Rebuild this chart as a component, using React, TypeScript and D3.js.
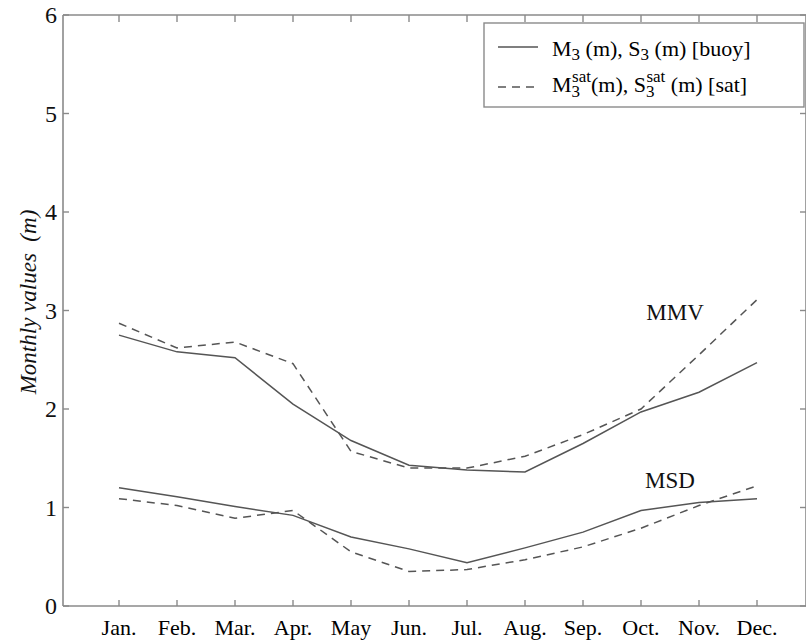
import React from "react";
import * as d3 from "d3";

const months = ["Jan.", "Feb.", "Mar.", "Apr.", "May", "Jun.", "Jul.", "Aug.", "Sep.", "Oct.", "Nov.", "Dec."];
const mmvBuoy = [2.75, 2.58, 2.52, 2.05, 1.68, 1.43, 1.38, 1.36, 1.65, 1.97, 2.17, 2.47];
const mmvSat = [2.87, 2.62, 2.68, 2.46, 1.57, 1.4, 1.4, 1.52, 1.74, 2.0, 2.55, 3.11];
const msdBuoy = [1.2, 1.11, 1.01, 0.92, 0.7, 0.58, 0.44, 0.59, 0.75, 0.97, 1.05, 1.09];
const msdSat = [1.09, 1.02, 0.89, 0.97, 0.55, 0.35, 0.37, 0.47, 0.6, 0.79, 1.02, 1.22];
const yTicks = [0, 1, 2, 3, 4, 5, 6];

const W = 806, H = 644;
const left = 63, right = 812, top = 15, bottom = 606;
const axisColor = "#8a8a8a";
const lineColor = "#555";
const font = "Liberation Serif, Times New Roman, Times, serif";

export default function App() {
  const x = d3.scaleLinear().domain([1, 12]).range([119, 757]);
  const y = d3.scaleLinear().domain([0, 6]).range([bottom, top]);
  const line = d3.line<number>().x((_, i) => x(i + 1)).y((d) => y(d));
  const series = [
    { data: mmvBuoy, dash: undefined },
    { data: mmvSat, dash: "8 6" },
    { data: msdBuoy, dash: undefined },
    { data: msdSat, dash: "8 6" },
  ];
  return (
    <svg width={W} height={H} style={{ display: "block", position: "absolute", left: 0, top: 0, background: "#fff" }}>
      <rect x={0} y={0} width={W} height={H} fill="#fff" />
      {/* frame */}
      <line x1={left} y1={top} x2={left} y2={bottom} stroke={axisColor} strokeWidth={1.6} />
      <line x1={left} y1={bottom} x2={right} y2={bottom} stroke={axisColor} strokeWidth={1.6} />
      <line x1={left} y1={top} x2={right} y2={top} stroke={axisColor} strokeWidth={1.6} />
      <line x1={right - 6} y1={top} x2={right - 6} y2={bottom} stroke={axisColor} strokeWidth={1.6} />
      {/* x ticks */}
      {months.map((m, i) => (
        <g key={m}>
          <line x1={x(i + 1)} x2={x(i + 1)} y1={bottom} y2={bottom - 6} stroke={axisColor} strokeWidth={1.4} />
          <line x1={x(i + 1)} x2={x(i + 1)} y1={top} y2={top + 7} stroke={axisColor} strokeWidth={1.4} />
          <text x={x(i + 1)} y={635} textAnchor="middle" fontFamily={font} fontSize={22} fill="#000">{m}</text>
        </g>
      ))}
      {/* y ticks */}
      {yTicks.map((t) => (
        <g key={t}>
          <line x1={left} x2={left + 6} y1={y(t)} y2={y(t)} stroke={axisColor} strokeWidth={1.4} />
          <line x1={right - 6} x2={right - 12} y1={y(t)} y2={y(t)} stroke={axisColor} strokeWidth={1.4} />
          <text x={57} y={y(t) + 8} textAnchor="end" fontFamily={font} fontSize={24} fill="#111">{t}</text>
        </g>
      ))}
      {/* y label */}
      <text transform="translate(36,302) rotate(-90)" textAnchor="middle" fontFamily={font} fontStyle="italic" fontSize={23} fill="#111">
        Monthly values{"\u00a0\u00a0"}(m)
      </text>
      {/* series */}
      {series.map((s, i) => (
        <path key={i} d={line(s.data) || ""} fill="none" stroke={lineColor} strokeWidth={1.5} strokeDasharray={s.dash} />
      ))}
      {/* labels */}
      <text x={675} y={320} textAnchor="middle" fontFamily={font} fontSize={23} fill="#111">MMV</text>
      <text x={670} y={488} textAnchor="middle" fontFamily={font} fontSize={23} fill="#111">MSD</text>
      {/* legend */}
      <rect x={484} y={23} width={320} height={84} fill="#fff" stroke={axisColor} strokeWidth={1.4} />
      <line x1={498} x2={538} y1={47} y2={47} stroke={lineColor} strokeWidth={1.5} />
      <line x1={498} x2={538} y1={87} y2={87} stroke={lineColor} strokeWidth={1.5} strokeDasharray="8 6" />
      <text x={552} y={56} fontFamily={font} fontSize={22} fill="#000">
        M<tspan fontSize={17} dy={4}>3</tspan><tspan dy={-4}> (m), S</tspan><tspan fontSize={17} dy={4}>3</tspan><tspan dy={-4}> (m) [buoy]</tspan>
      </text>
      <text x={552} y={92} fontFamily={font} fontSize={22} fill="#000">
        M<tspan fontSize={17} dy={5}>3</tspan><tspan fontSize={17} dx={-8} dy={-15}>sat</tspan><tspan dy={10}>(m), S</tspan><tspan fontSize={17} dy={5}>3</tspan><tspan fontSize={17} dx={-8} dy={-15}>sat</tspan><tspan dy={10}> (m) [sat]</tspan>
      </text>
    </svg>
  );
}
